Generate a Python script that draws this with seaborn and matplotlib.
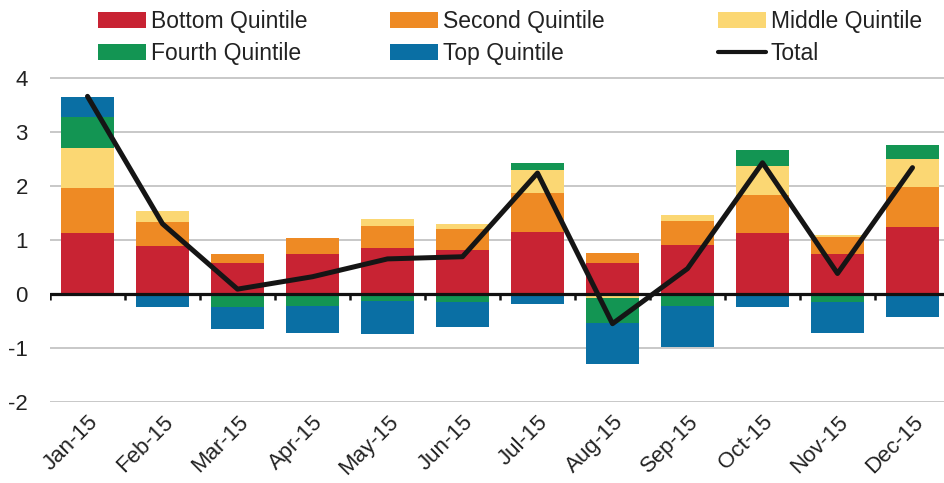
import numpy as np
import matplotlib
matplotlib.use("Agg")
import matplotlib.pyplot as plt
import seaborn as sns
from matplotlib.patches import Patch
from matplotlib.lines import Line2D

# data (contributions by income quintile)
months = ['Jan-15', 'Feb-15', 'Mar-15', 'Apr-15', 'May-15', 'Jun-15',
          'Jul-15', 'Aug-15', 'Sep-15', 'Oct-15', 'Nov-15', 'Dec-15']
bottom_q = [1.13, 0.89, 0.57, 0.74, 0.85, 0.81, 1.15, 0.57, 0.91, 1.13, 0.74, 1.24]
second_q = [0.83, 0.44, 0.17, 0.30, 0.41, 0.39, 0.72, 0.19, 0.44, 0.70, 0.32, 0.74]
middle_q = [0.74, 0.21, 0.00, 0.00, 0.13, 0.10, 0.43, -0.08, 0.11, 0.54, 0.04, 0.52]
fourth_q = [0.58, 0.00, -0.24, -0.22, -0.13, -0.15, 0.13, -0.46, -0.22, 0.30, -0.15, 0.26]
top_q = [0.37, -0.24, -0.41, -0.50, -0.61, -0.46, -0.19, -0.76, -0.77, -0.24, -0.57, -0.43]
total = [3.66, 1.30, 0.09, 0.32, 0.65, 0.69, 2.24, -0.55, 0.47, 2.43, 0.38, 2.34]

names = ['Bottom Quintile', 'Second Quintile', 'Middle Quintile',
         'Fourth Quintile', 'Top Quintile']
colors = ['#c82333', '#ee8a24', '#fbd773', '#139553', '#0a6fa4']

sns.set_style('white')
plt.rcParams['font.family'] = ['Liberation Sans', 'DejaVu Sans']

fig = plt.figure(figsize=(9.44, 4.83), dpi=100)
ax = fig.add_axes([50 / 944, 1 - 402 / 483, 894 / 944, 6.2 * 54 / 483])

# stack positives up and negatives down, draw back to front
vals = np.array([bottom_q, second_q, middle_q, fourth_q, top_q])
pos = np.clip(vals, 0, None).cumsum(axis=0)
neg = np.clip(vals, None, 0).cumsum(axis=0)
for k in reversed(range(len(names))):
    for cum in (pos[k], neg[k]):
        sns.barplot(x=months, y=cum, color=colors[k], saturation=1, width=0.7,
                    errorbar=None, linewidth=0, ax=ax, zorder=2)

ax.axhline(0, color='#111111', lw=2.3, zorder=3)
ax.vlines(np.arange(len(months) + 1) - 0.5, -0.12, 0, color='#111111', lw=1.8, zorder=3)

sns.lineplot(x=np.arange(len(months)), y=total, color='#151515', lw=3.6,
             ax=ax, zorder=4, legend=False)

ax.set_xlim(-0.5, 11.42)
ax.set_ylim(-2, 4.2)
ax.set_yticks([-2, -1, 0, 1, 2, 3, 4])
ax.set_yticklabels(['-2', '-1', '0', '1', '2', '3', '4'])
for g in [-2, -1, 1, 2, 3, 4]:
    ax.axhline(g, color='#c4c4c4', lw=1.3, zorder=1)
ax.set_xticks(np.arange(len(months)))
ax.set_xticklabels(months, rotation=45, ha='right', rotation_mode='anchor')
ax.tick_params(axis='y', length=0, pad=16, labelsize=16, labelcolor='#222222')
ax.tick_params(axis='x', length=0, pad=7, labelsize=16, labelcolor='#222222')
ax.set_xlabel('')
ax.set_ylabel('')
for s in ax.spines.values():
    s.set_visible(False)

# legend: three columns placed like the original
handles = [Patch(facecolor=c, edgecolor='none') for c in colors]
handles.append(Line2D([], [], color='#151515', lw=3))
labels = names + ['Total']
col_x = [98, 390, 718]
for i, x in enumerate(col_x):
    leg = fig.legend([handles[i], handles[i + 3]], [labels[i], labels[i + 3]],
                     loc='upper left', bbox_to_anchor=(x / 944, 1 - 10 / 483),
                     frameon=False, fontsize=16.5, handlelength=2.1, handleheight=0.7,
                     handletextpad=0.2, labelspacing=0.4, borderpad=0, borderaxespad=0)
    for t in leg.get_texts():
        t.set_color('#222222')

fig.savefig('out.png', dpi=100)
